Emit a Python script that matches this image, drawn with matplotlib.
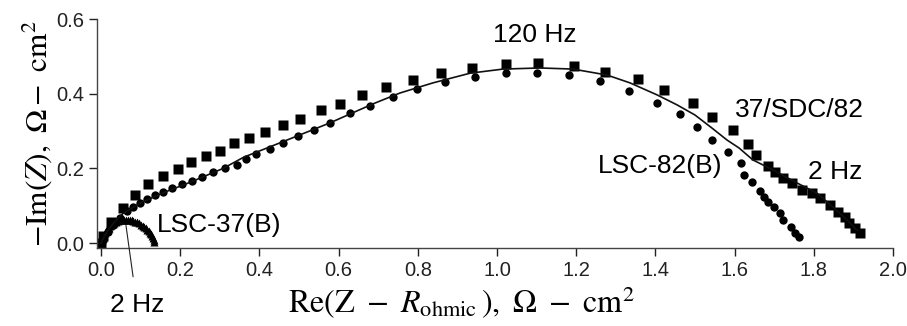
import numpy as np
import matplotlib
matplotlib.use('Agg')
import matplotlib.pyplot as plt

# 37/SDC/82 (squares)
sq_x = [0.000, 0.005, 0.025, 0.056, 0.086, 0.119, 0.157, 0.194, 0.227, 0.265, 0.301, 0.336,
        0.374, 0.414, 0.460, 0.503, 0.556, 0.604, 0.659, 0.720, 0.788, 0.859, 0.937, 1.023,
        1.104, 1.194, 1.273, 1.356, 1.422, 1.495, 1.543, 1.596, 1.634, 1.654, 1.684, 1.702,
        1.722, 1.745, 1.770, 1.795, 1.816, 1.841, 1.861, 1.879, 1.889, 1.904, 1.917]
sq_y = [0.000, 0.020, 0.056, 0.094, 0.129, 0.158, 0.180, 0.198, 0.217, 0.233, 0.247, 0.268,
        0.282, 0.298, 0.316, 0.332, 0.357, 0.373, 0.397, 0.418, 0.437, 0.456, 0.469, 0.480,
        0.483, 0.475, 0.458, 0.440, 0.410, 0.375, 0.338, 0.303, 0.265, 0.236, 0.206, 0.190,
        0.174, 0.161, 0.142, 0.134, 0.121, 0.102, 0.083, 0.070, 0.054, 0.040, 0.027]

# LSC-82(B) (circles)
ci_x = [0.005, 0.018, 0.030, 0.048, 0.066, 0.081, 0.098, 0.116, 0.136, 0.157, 0.179, 0.205,
        0.230, 0.255, 0.283, 0.313, 0.343, 0.365, 0.391, 0.427, 0.460, 0.497, 0.538, 0.578,
        0.629, 0.679, 0.737, 0.798, 0.869, 0.944, 1.023, 1.101, 1.182, 1.260, 1.333, 1.404,
        1.462, 1.505, 1.543, 1.583, 1.616, 1.624, 1.644, 1.664, 1.674, 1.684, 1.699, 1.715,
        1.722, 1.742, 1.753, 1.763]
ci_y = [0.008, 0.029, 0.048, 0.067, 0.086, 0.097, 0.107, 0.118, 0.129, 0.137, 0.147, 0.158,
        0.166, 0.177, 0.190, 0.201, 0.209, 0.225, 0.239, 0.252, 0.268, 0.287, 0.303, 0.322,
        0.349, 0.367, 0.391, 0.413, 0.432, 0.445, 0.456, 0.456, 0.450, 0.434, 0.408, 0.375,
        0.346, 0.311, 0.276, 0.244, 0.214, 0.182, 0.164, 0.139, 0.123, 0.110, 0.097, 0.080,
        0.062, 0.043, 0.027, 0.016]

# LSC-37(B) (triangles)
tr_x = [0.000, 0.002, 0.004, 0.006, 0.008, 0.010, 0.013, 0.016, 0.019, 0.022, 0.026, 0.030,
        0.034, 0.038, 0.042, 0.047, 0.052, 0.057, 0.062, 0.067, 0.072, 0.077, 0.082, 0.087,
        0.092, 0.097, 0.101, 0.105, 0.109, 0.113, 0.117, 0.120, 0.123, 0.126, 0.129, 0.131,
        0.133, 0.135]
tr_y = [0.002, 0.008, 0.013, 0.018, 0.023, 0.027, 0.032, 0.037, 0.041, 0.045, 0.049, 0.052,
        0.055, 0.057, 0.059, 0.061, 0.062, 0.063, 0.063, 0.063, 0.062, 0.061, 0.060, 0.058,
        0.056, 0.053, 0.050, 0.047, 0.044, 0.040, 0.036, 0.032, 0.028, 0.024, 0.019, 0.014,
        0.009, 0.004]

# fit line
fit_x = [0.000, 0.010, 0.023, 0.040, 0.056, 0.098, 0.157, 0.225, 0.308, 0.360, 0.460, 0.578,
         0.687, 0.755, 0.838, 0.932, 1.015, 1.109, 1.192, 1.278, 1.336, 1.404, 1.455, 1.500,
         1.543, 1.581, 1.611, 1.646, 1.697, 1.758, 1.808, 1.848, 1.884, 1.909]
fit_y = [0.000, 0.022, 0.043, 0.064, 0.080, 0.107, 0.135, 0.163, 0.200, 0.230, 0.272, 0.322,
         0.373, 0.402, 0.429, 0.455, 0.466, 0.469, 0.466, 0.450, 0.429, 0.397, 0.370, 0.343,
         0.308, 0.276, 0.255, 0.223, 0.196, 0.161, 0.134, 0.097, 0.062, 0.035]

plt.rcParams['font.family'] = ['Liberation Sans', 'DejaVu Sans']
plt.rcParams['mathtext.fontset'] = 'stix'

fig = plt.figure(figsize=(9.07, 3.26), dpi=100)
ax = fig.add_axes([0.107, 0.239, 0.8776, 0.7027])

ax.plot(fit_x, fit_y, '-', color='#111111', lw=1.2, zorder=3)
ax.plot(sq_x, sq_y, 's', color='black', ms=6.5, mec='none', zorder=2)
ax.plot(ci_x, ci_y, 'o', color='black', ms=6, mec='none', zorder=2)
ax.plot(tr_x, tr_y, '^', color='black', ms=5.5, mec='none', zorder=2)

ax.set_xlim(-0.010, 2.0)
ax.set_ylim(-0.013, 0.6)
ax.set_xticks(np.arange(0, 2.01, 0.2))
ax.set_xticklabels(['%.1f' % v for v in np.arange(0, 2.01, 0.2)])
ax.set_yticks([0.0, 0.2, 0.4, 0.6])
ax.set_yticklabels(['0.0', '0.2', '0.4', '0.6'])
ax.tick_params(direction='out', length=6, width=1, labelsize=14.5, colors='#222222', pad=3)
for s in ['top', 'right']:
    ax.spines[s].set_visible(False)
for s in ['left', 'bottom']:
    ax.spines[s].set_color('#444444')
    ax.spines[s].set_linewidth(1)

ax.set_xlabel(r'$\mathrm{Re}(\mathrm{Z}\ -\ R_{\mathrm{ohmic}}\,),\ \Omega\ -\ \mathrm{cm}^2$',
              fontsize=23)
ax.xaxis.set_label_coords(0.457, -0.16)
ax.set_ylabel(r'$-\mathrm{Im}(Z),\ \Omega-\ \mathrm{cm}^2$', fontsize=22.5, labelpad=2)

ax.text(1.096, 0.558, '120 Hz', fontsize=19, ha='center', va='center')
ax.text(1.763, 0.357, '37/SDC/82', fontsize=19, ha='center', va='center')
ax.text(1.412, 0.206, 'LSC-82(B)', fontsize=19, ha='center', va='center')
ax.text(1.854, 0.190, '2 Hz', fontsize=19, ha='center', va='center')
ax.text(0.298, 0.048, 'LSC-37(B)', fontsize=19, ha='center', va='center')
ax.annotate('2 Hz', xy=(0.063, 0.048), xytext=(0.091, -0.166), fontsize=19,
            ha='center', va='center', annotation_clip=False,
            arrowprops=dict(arrowstyle='-', color='#222222', lw=0.8, shrinkA=10, shrinkB=0))

fig.savefig('out.png', dpi=100)
